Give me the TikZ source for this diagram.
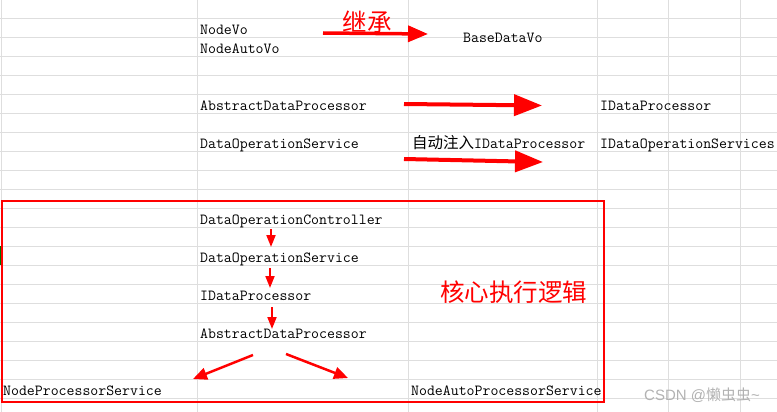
\documentclass[tikz,border=0pt]{standalone}
\usepackage{fontspec}
\newfontfamily\cjk{Noto Sans CJK SC}
\newfontfamily\wmfont{Liberation Sans}
\usetikzlibrary{arrows.meta}

\begin{document}
\begin{tikzpicture}[x=1pt,y=-1pt]
\tikzset{cell/.style={anchor=base west, inner sep=0pt, font=\fontsize{15.4}{18}\ttfamily},
  redtxt/.style={text=red, inner sep=0pt, font=\fontsize{24.5}{28}\cjk},
  bigarr/.style={red, line width=4pt, -{Triangle[length=28pt,width=21pt]}},
  midarr/.style={red, line width=3.5pt, -{Triangle[length=20pt,width=16pt]}},
  smallarr/.style={red, line width=2pt, -{Triangle[length=12pt,width=9pt]}},
  diagarr/.style={red, line width=2.5pt, -{Triangle[length=14pt,width=12pt]}}}
\useasboundingbox (0,0) rectangle (777,412);
% sheet grid
\foreach \r in {0,...,20} \draw[gray!26, line width=1pt] (0,{18.5+19*\r}) -- (777,{18.5+19*\r});
\foreach \x in {1,197,408,597,668,740} \draw[gray!26, line width=1pt] (\x,0) -- (\x,412);
\fill[green!45!black] (0,246) rectangle (2,265);
% cells
\node[cell] (nodeVo) at (200,34.5) {NodeVo};
\node[cell] (nodeAutoVo) at (200,53.5) {NodeAutoVo};
\node[cell] (baseVo) at (463,43) {BaseDataVo};
\node[cell] (absProcA) at (200,110.5) {AbstractDataProcessor};
\node[cell] (iProcA) at (600,110.5) {IDataProcessor};
\node[cell] (dosSvcA) at (200,148.5) {DataOperationService};
\node[cell] (autoInject) at (412,148.5) {{\cjk\fontsize{15.5}{18}\selectfont 自动注入}IDataProcessor};
\node[cell] (iDos) at (600,148.5) {IDataOperationServices};
\node[cell] (ctrl) at (200,224.5) {DataOperationController};
\node[cell] (dosSvcB) at (200,262.5) {DataOperationService};
\node[cell] (iProcB) at (200,300.5) {IDataProcessor};
\node[cell] (absProcB) at (200,338.5) {AbstractDataProcessor};
\node[cell] (nodeSvc) at (3,395.5) {NodeProcessorService};
\node[cell] (nodeAutoSvc) at (411,395.5) {NodeAutoProcessorService};
% core box
\draw[red, line width=2pt] (2,201) rectangle (604,402);
\node[redtxt] (inherit) at (367,22) {继承};
\node[redtxt] (coreLogic) at (513.5,292) {核心执行逻辑};
% arrows
\coordinate (inhA) at (323,33); \coordinate (inhB) at (428,34);
\coordinate (implA) at (404,104); \coordinate (implB) at (542,105.5);
\coordinate (injA) at (404,159); \coordinate (injB) at (543,162);
\draw[midarr] (inhA) -- (inhB);
\draw[bigarr] (implA) -- (implB);
\draw[bigarr] (injA) -- (injB);
\coordinate (s1) at (271,229); \coordinate (e1) at (271,247);
\coordinate (s2) at (270,268); \coordinate (e2) at (270,288);
\coordinate (s3) at (272,307); \coordinate (e3) at (272,329);
\draw[smallarr] (s1) -- (e1); \draw[smallarr] (s2) -- (e2); \draw[smallarr] (s3) -- (e3);
\coordinate (splitL) at (253,355); \coordinate (splitR) at (286,354);
\coordinate (toL) at (193,379); \coordinate (toR) at (348,378);
\draw[diagarr] (splitL) -- (toL); \draw[diagarr] (splitR) -- (toR);
\node[anchor=west, inner sep=0pt, text=gray!60, font=\fontsize{15}{18}\wmfont] (watermark) at (644,395) {CSDN @{\cjk 懒虫虫}\textasciitilde};
\end{tikzpicture}
\end{document}
